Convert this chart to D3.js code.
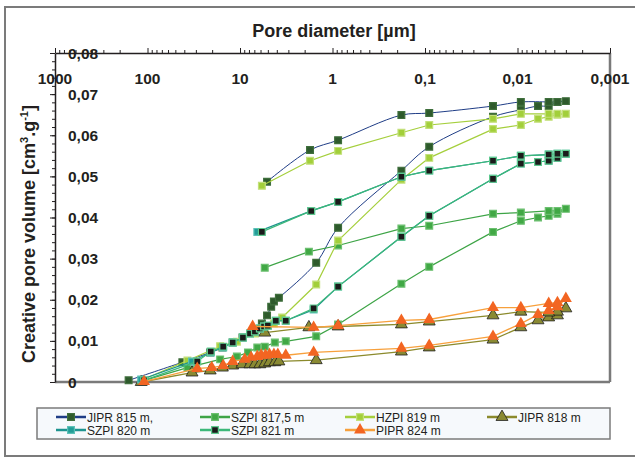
<!DOCTYPE html>
<html>
<head>
<meta charset="utf-8">
<script src="https://cdn.jsdelivr.net/npm/d3@7"></script>
<style>
  body { margin: 0; background: #fff; }
  svg { display: block; font-family: "Liberation Sans", Arial, sans-serif; }
</style>
</head>
<body>
<div id="chart"></div>
<script>
// tick labels
const xTickValues = [1000, 100, 10, 1, 0.1, 0.01, 0.001];
const xTickLabels = ["1000", "100", "10", "1", "0,1", "0,01", "0,001"];
const yTickValues = [0, 0.01, 0.02, 0.03, 0.04, 0.05, 0.06, 0.07, 0.08];
const yTickLabels = ["0", "0,01", "0,02", "0,03", "0,04", "0,05", "0,06", "0,07", "0,08"];

const seriesNames = ["JIPR 815 m,", "SZPI 817,5 m", "HZPI 819 m", "JIPR 818 m", "SZPI 820 m", "SZPI 821 m", "PIPR 824 m"];

// pore diameter [um] and volume [cm3/g], intrusion then extrusion
const jipr815Diam = [160, 42, 21, 15.5, 12, 9.4, 6.9, 5.8, 5.1, 4.6, 4.3, 3.8, 1.5, 0.87, 0.18, 0.09, 0.0184, 0.0092, 0.006, 0.0046, 0.0037, 0.003, 0.0037, 0.0046, 0.0092, 0.0184, 0.09, 0.18, 0.87, 1.75, 5.1];
const jipr815Vol = [0.0004, 0.0048, 0.0072, 0.0084, 0.0096, 0.0108, 0.0123, 0.0142, 0.0162, 0.0183, 0.0196, 0.0205, 0.0290, 0.0375, 0.0514, 0.0572, 0.0645, 0.0662, 0.0671, 0.0671, 0.0681, 0.0683, 0.0681, 0.0681, 0.0681, 0.0671, 0.0654, 0.0649, 0.0588, 0.0564, 0.0487];

const szpi8175Diam = [115, 37, 16.4, 10.8, 8.2, 6.5, 5.4, 4.2, 3.2, 1.5, 0.87, 0.18, 0.09, 0.0184, 0.0092, 0.006, 0.0046, 0.0037, 0.003, 0.0037, 0.0046, 0.0092, 0.0184, 0.09, 0.18, 0.87, 1.8, 5.4];
const szpi8175Vol = [0.0002, 0.0035, 0.0055, 0.0062, 0.0072, 0.0084, 0.0086, 0.0096, 0.0099, 0.0111, 0.0140, 0.0239, 0.0280, 0.0365, 0.0392, 0.0400, 0.0404, 0.0409, 0.0421, 0.0416, 0.0416, 0.0412, 0.0409, 0.0380, 0.0373, 0.0332, 0.0317, 0.0278];

const hzpi819Diam = [115, 37, 16.4, 10.8, 6.9, 5.4, 4.3, 3.5, 1.5, 0.87, 0.18, 0.09, 0.0184, 0.0092, 0.006, 0.0046, 0.0037, 0.003, 0.0037, 0.0046, 0.0092, 0.0184, 0.09, 0.18, 0.87, 1.75, 5.8];
const hzpi819Vol = [0.0005, 0.0052, 0.0087, 0.0098, 0.0118, 0.0128, 0.0142, 0.0157, 0.0237, 0.0344, 0.0492, 0.0545, 0.0615, 0.0625, 0.0640, 0.0645, 0.0650, 0.0652, 0.0652, 0.0652, 0.0652, 0.0640, 0.0625, 0.0606, 0.0562, 0.0538, 0.0477];

const jipr818Diam = [117, 33, 21, 15.5, 12, 9.5, 7.8, 6.9, 6.1, 5.4, 4.8, 4.2, 3.8, 1.5, 0.18, 0.09, 0.0184, 0.0092, 0.006, 0.0046, 0.0037, 0.003, 0.0037, 0.0046, 0.0092, 0.0184, 0.09, 0.18, 0.87, 1.8, 5.4];
const jipr818Vol = [0.0000, 0.0023, 0.0028, 0.0035, 0.0040, 0.0043, 0.0043, 0.0043, 0.0043, 0.0045, 0.0048, 0.0048, 0.0050, 0.0053, 0.0074, 0.0084, 0.0103, 0.0133, 0.0150, 0.0157, 0.0162, 0.0179, 0.0171, 0.0169, 0.0171, 0.0162, 0.0147, 0.0140, 0.0135, 0.0133, 0.0120];

const szpi820Diam = [117, 33, 20.7, 15.2, 12, 9.3, 7.8, 6.9, 6.1, 5.5, 5.0, 4.1, 3.2, 1.6, 0.87, 0.18, 0.09, 0.0184, 0.0092, 0.006, 0.0046, 0.0037, 0.003, 0.0037, 0.0046, 0.0092, 0.0184, 0.09, 0.18, 0.87, 1.7, 6.5];
const szpi820Vol = [0.0006, 0.0050, 0.0072, 0.0084, 0.0096, 0.0108, 0.0118, 0.0123, 0.0130, 0.0135, 0.0137, 0.0149, 0.0149, 0.0176, 0.0232, 0.0353, 0.0404, 0.0494, 0.0531, 0.0535, 0.0538, 0.0545, 0.0555, 0.0555, 0.0553, 0.0550, 0.0538, 0.0514, 0.0499, 0.0438, 0.0416, 0.0365];

const szpi821Diam = [109, 29, 20.7, 15.2, 12, 9.3, 7.8, 6.9, 6.1, 5.5, 5.0, 4.1, 3.2, 1.6, 0.87, 0.18, 0.09, 0.0184, 0.0092, 0.006, 0.0046, 0.0037, 0.003, 0.0037, 0.0046, 0.0092, 0.0184, 0.09, 0.18, 0.87, 1.7, 5.8];
const szpi821Vol = [0.0004, 0.0050, 0.0074, 0.0086, 0.0096, 0.0108, 0.0118, 0.0123, 0.0130, 0.0135, 0.0137, 0.0149, 0.0149, 0.0179, 0.0232, 0.0353, 0.0404, 0.0494, 0.0531, 0.0535, 0.0538, 0.0545, 0.0555, 0.0555, 0.0553, 0.0550, 0.0538, 0.0514, 0.0499, 0.0438, 0.0416, 0.0365];

const pipr824Diam = [109, 29, 20.2, 15.2, 12, 8.9, 7.6, 6.5, 5.9, 5.3, 4.8, 4.3, 3.9, 3.2, 1.6, 0.18, 0.09, 0.0184, 0.0092, 0.006, 0.0046, 0.0037, 0.003, 0.0037, 0.0046, 0.0092, 0.0184, 0.09, 0.18, 0.87, 1.6, 7.3];
const pipr824Vol = [0.0001, 0.0033, 0.0035, 0.0040, 0.0050, 0.0055, 0.0060, 0.0062, 0.0065, 0.0065, 0.0067, 0.0067, 0.0067, 0.0065, 0.0072, 0.0082, 0.0089, 0.0111, 0.0142, 0.0164, 0.0174, 0.0183, 0.0203, 0.0193, 0.0191, 0.0181, 0.0181, 0.0152, 0.0150, 0.0137, 0.0133, 0.0135];

const styles = [
    { line: "#1f3d86", width: 1, fill: "#2e5a2c", stroke: "#3f6f3c", shape: "square", smooth: true },
    { line: "#3da446", width: 1.2, fill: "#41a845", stroke: "#6cc070", shape: "square" },
    { line: "#a5cf3c", width: 1.2, fill: "#a2cf3a", stroke: "#c3e07a", shape: "square" },
    { line: "#8b8a2c", width: 1.3, fill: "#8a8a33", stroke: "#1f1f1f", shape: "triangle" },
    { line: "#1d9490", width: 1.2, fill: "#229d97", stroke: "#5cc1b8", shape: "square" },
    { line: "#3cb87a", width: 1.2, fill: "#1b1b1b", stroke: "#5fc98f", shape: "square" },
    { line: "#f7a03c", width: 1.3, fill: "#f26522", stroke: "none", shape: "triangle" }
];

const seriesData = [
    d3.zip(jipr815Diam, jipr815Vol),
    d3.zip(szpi8175Diam, szpi8175Vol),
    d3.zip(hzpi819Diam, hzpi819Vol),
    d3.zip(jipr818Diam, jipr818Vol),
    d3.zip(szpi820Diam, szpi820Vol),
    d3.zip(szpi821Diam, szpi821Vol),
    d3.zip(pipr824Diam, pipr824Vol)
];

const chartW = 635, chartH = 457;
const plotLeft = 55, plotRight = 610, plotTop = 53, plotBottom = 382;

var svg = d3.select("#chart")
    .append("svg")
    .attr("width", chartW)
    .attr("height", chartH);

// outer frame (runs off the right edge)
svg.append("rect")
    .attr("x", 5).attr("y", 7)
    .attr("width", 700).attr("height", 449)
    .attr("fill", "#fff")
    .attr("stroke", "#7b7b7b")
    .attr("stroke-width", 2);

var x = d3.scaleLog().domain([1000, 0.001]).range([plotLeft, plotRight]);
var y = d3.scaleLinear().domain([0, 0.08]).range([plotBottom, plotTop]);

// plot frame right + bottom
svg.append("line")
    .attr("x1", plotRight).attr("y1", plotTop).attr("x2", plotRight).attr("y2", plotBottom)
    .style("stroke", "#7a7a7a").style("stroke-width", 2.5);
svg.append("line")
    .attr("x1", plotLeft).attr("y1", plotBottom).attr("x2", plotRight).attr("y2", plotBottom)
    .style("stroke", "#7a7a7a").style("stroke-width", 2.5);

// top x axis
var minorX = [];
for (let e = -3; e < 3; e++) {
    for (let k = 2; k < 10; k++) minorX.push(k * Math.pow(10, e));
}
svg.append("g")
    .attr("transform", "translate(0," + plotTop + ")")
    .attr("color", "#231f20")
    .call(d3.axisTop(x).tickValues(minorX).tickSize(3).tickFormat(""))
    .call(g => g.select(".domain").remove());
svg.append("g")
    .attr("transform", "translate(0," + plotTop + ")")
    .attr("color", "#231f20")
    .call(d3.axisTop(x).tickValues(xTickValues).tickSize(5).tickSizeOuter(0).tickFormat(""))
    .call(g => g.select(".domain").attr("stroke-width", 1.5));

// left y axis
var minorY = d3.range(0, 0.0801, 0.002);
svg.append("g")
    .attr("transform", "translate(" + plotLeft + ",0)")
    .attr("color", "#231f20")
    .call(d3.axisLeft(y).tickValues(minorY).tickSize(3).tickFormat(""))
    .call(g => g.select(".domain").remove());
svg.append("g")
    .attr("transform", "translate(" + plotLeft + ",0)")
    .attr("color", "#231f20")
    .call(d3.axisLeft(y).tickValues(yTickValues).tickSize(5).tickSizeOuter(0).tickFormat(""))
    .call(g => g.select(".domain").attr("stroke-width", 1.5));

// tick labels drawn inside the plot
svg.append("g").selectAll("text")
    .data(xTickValues)
    .join("text")
    .attr("x", d => x(d))
    .attr("y", 84)
    .attr("text-anchor", "middle")
    .attr("font-size", 15.5)
    .attr("font-weight", "bold")
    .attr("fill", "#231f20")
    .text((d, i) => xTickLabels[i]);

svg.append("g").selectAll("text")
    .data(yTickValues)
    .join("text")
    .attr("x", 68)
    .attr("y", d => y(d) + 5.5)
    .attr("font-size", 15.5)
    .attr("font-weight", "bold")
    .attr("fill", "#231f20")
    .text((d, i) => yTickLabels[i]);

// titles
svg.append("text")
    .attr("x", 334).attr("y", 37)
    .attr("text-anchor", "middle")
    .attr("font-size", 18)
    .attr("font-weight", "bold")
    .attr("fill", "#231f20")
    .text("Pore diameter [µm]");

var yTitle = svg.append("text")
    .attr("transform", "translate(35,234) rotate(-90)")
    .attr("text-anchor", "middle")
    .attr("font-size", 18)
    .attr("font-weight", "bold")
    .attr("fill", "#231f20");
yTitle.append("tspan").text("Creative pore volume [cm");
yTitle.append("tspan").attr("font-size", 11).attr("dy", -7).text("3");
yTitle.append("tspan").attr("dy", 7).text(".g");
yTitle.append("tspan").attr("font-size", 11).attr("dy", -7).text("-1");
yTitle.append("tspan").attr("dy", 7).text("]");

// series
function markerPath(shape) {
    return shape == "square"
        ? d3.symbol().type(d3.symbolSquare).size(46)()
        : d3.symbol().type(d3.symbolTriangle).size(62)();
}

seriesData.forEach((data, i) => {
    var st = styles[i];
    var line = d3.line()
        .x(d => x(d[0]))
        .y(d => y(d[1]))
        .curve(st.smooth ? d3.curveCatmullRom.alpha(0.5) : d3.curveLinear);

    var g = svg.append("g");
    g.append("path")
        .datum(data)
        .attr("d", line)
        .attr("fill", "none")
        .attr("stroke", st.line)
        .attr("stroke-width", st.width);

    g.selectAll("path.m")
        .data(data)
        .join("path")
        .attr("class", "m")
        .attr("transform", d => "translate(" + x(d[0]) + "," + y(d[1]) + ")")
        .attr("d", markerPath(st.shape))
        .attr("fill", st.fill)
        .attr("stroke", st.stroke)
        .attr("stroke-width", st.shape == "square" ? 1.2 : 0.8);
});

// legend
svg.append("rect")
    .attr("x", 37).attr("y", 408)
    .attr("width", 573).attr("height", 31)
    .attr("fill", "#f6f9fc")
    .attr("stroke", "#7b7b7b")
    .attr("stroke-width", 1.5);

const legendCols = [56, 200, 345, 487];
const legendRows = [417, 430];

seriesNames.forEach((name, i) => {
    var st = styles[i];
    var lx = legendCols[i % 4];
    var ly = legendRows[Math.floor(i / 4)];
    var g = svg.append("g");
    g.append("line")
        .attr("x1", lx).attr("y1", ly)
        .attr("x2", lx + 30).attr("y2", ly)
        .style("stroke", st.line)
        .style("stroke-width", 2.5);
    g.append("path")
        .attr("transform", "translate(" + (lx + 15) + "," + ly + ")")
        .attr("d", markerPath(st.shape))
        .attr("fill", st.fill)
        .attr("stroke", st.stroke)
        .attr("stroke-width", st.shape == "square" ? 1.2 : 0.8);
    g.append("text")
        .attr("x", lx + 31)
        .attr("y", ly + 4.5)
        .attr("font-size", 12)
        .attr("fill", "#231f20")
        .text(name);
});
</script>
</body>
</html>
